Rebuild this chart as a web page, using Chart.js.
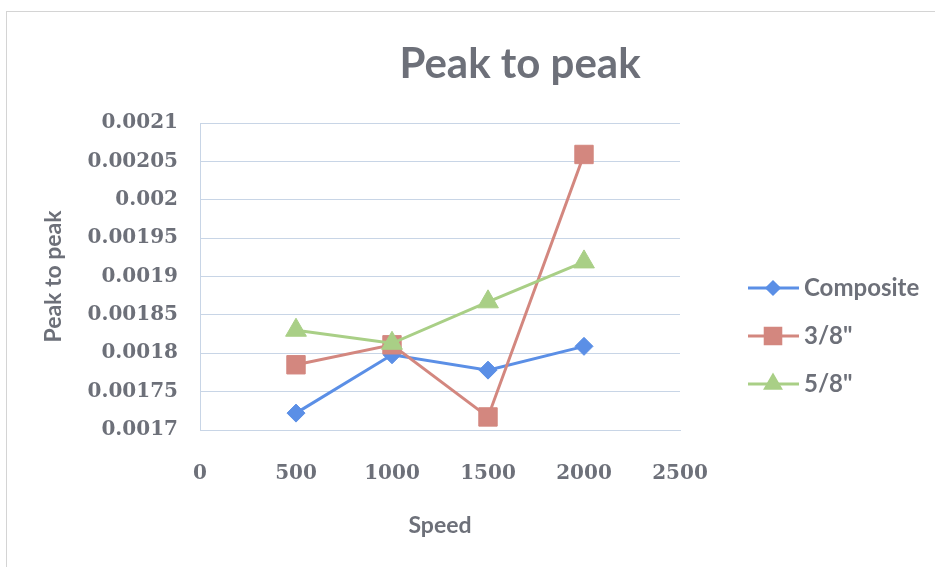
<!DOCTYPE html>
<html>
<head>
<meta charset="utf-8">
<title>Peak to peak</title>
<script src="https://cdn.jsdelivr.net/npm/chart.js@4/dist/chart.umd.min.js"></script>
<style>
  html, body { margin: 0; padding: 0; background: #fff; }
  #wrap { width: 935px; height: 567px; }
</style>
</head>
<body>
<div id="wrap"><canvas id="chart" width="935" height="567"></canvas></div>
<script>
// ── Data ───────────────────────────────────────────────────
const speeds      = [500, 1000, 1500, 2000];
const composite   = [0.001722, 0.001798, 0.001778, 0.001809];
const threeEighth = [0.001785, 0.001811, 0.001717, 0.002059];
const fiveEighth  = [0.001830, 0.001813, 0.001867, 0.001919];
const seriesNames = ['Composite', '3/8"', '5/8"'];
const xTicks = [0, 500, 1000, 1500, 2000, 2500];
const yTicks = [0.0017, 0.00175, 0.0018, 0.00185, 0.0019, 0.00195, 0.002, 0.00205, 0.0021];

const TEXT = '#6d7079';
const GRID = '#c8d5e6';
const colors = ['#5b8fe6', '#d3877f', '#a9cf86'];
const styles = [
  { pointStyle: 'rectRot',  radius: 9,  legendRadius: 6 },
  { pointStyle: 'rect',     radius: 13, legendRadius: 11 },
  { pointStyle: 'triangle', radius: 12, legendRadius: 8.5 },
];

const toPoints = vals => vals.map((v, i) => ({ x: speeds[i], y: v }));

// ── Frame, title and legend ────────────────────────────────
const decor = {
  id: 'decor',
  beforeDraw(chart) {
    const ctx = chart.ctx;
    ctx.save();
    ctx.fillStyle = '#fff';
    ctx.fillRect(0, 0, chart.width, chart.height);
    ctx.strokeStyle = '#d4d4d4';
    ctx.lineWidth = 1;
    ctx.strokeRect(6.5, 11.5, 940, 570);
    ctx.restore();
  },
  afterDraw(chart) {
    const ctx = chart.ctx;
    ctx.save();
    ctx.fillStyle = TEXT;
    ctx.font = 'bold 42px Lato';
    ctx.textAlign = 'center';
    ctx.textBaseline = 'alphabetic';
    ctx.fillText('Peak to peak', 520, 78);

    const rows = [288, 336, 384];
    chart.data.datasets.forEach((ds, i) => {
      const y = rows[i];
      ctx.strokeStyle = ds.borderColor;
      ctx.lineWidth = 3;
      ctx.beginPath();
      ctx.moveTo(748, y);
      ctx.lineTo(799, y);
      ctx.stroke();
      Chart.helpers.drawPoint(ctx, {
        pointStyle: styles[i].pointStyle,
        radius: styles[i].legendRadius,
        rotation: 0,
        borderWidth: 1,
      }, 773, y);
      ctx.fillStyle = ds.borderColor;
      ctx.fill();
      ctx.fillStyle = TEXT;
      ctx.font = 'bold 24px Lato';
      ctx.textAlign = 'left';
      ctx.textBaseline = 'middle';
      ctx.fillText(ds.label, 804, y);
    });
    ctx.restore();
  },
};

new Chart(document.getElementById('chart'), {
  type: 'line',
  data: {
    datasets: [composite, threeEighth, fiveEighth].map((vals, i) => ({
      label: seriesNames[i],
      data: toPoints(vals),
      borderColor: colors[i],
      backgroundColor: colors[i],
      borderWidth: 3,
      pointStyle: styles[i].pointStyle,
      pointRadius: styles[i].radius,
      pointHoverRadius: styles[i].radius,
      pointBorderWidth: 1,
      tension: 0,
      order: 2 - i,
    })),
  },
  options: {
    responsive: false,
    animation: false,
    devicePixelRatio: 1,
    layout: { padding: { top: 123, right: 255, bottom: 0, left: 0 } },
    plugins: {
      legend: { display: false },
      title: { display: false },
      tooltip: { enabled: false },
    },
    scales: {
      x: {
        type: 'linear',
        min: 0,
        max: 2500,
        afterBuildTicks: s => { s.ticks = xTicks.map(v => ({ value: v })); },
        afterFit: s => { s.height = 137; },
        grid: { display: false, drawTicks: false },
        border: { display: true, color: GRID, width: 1 },
        ticks: {
          color: TEXT,
          padding: 32,
          maxRotation: 0,
          callback: v => String(v),
          font: { family: 'DejaVu Serif', size: 20, weight: 'bold' },
        },
        title: {
          display: true,
          text: 'Speed',
          color: TEXT,
          font: { family: 'Lato', size: 23, weight: 'bold' },
          padding: { top: 0, bottom: 28 },
        },
      },
      y: {
        min: 0.0017,
        max: 0.0021,
        afterBuildTicks: s => { s.ticks = yTicks.map(v => ({ value: v })); },
        afterFit: s => { s.width = 200; },
        grid: { color: GRID, drawTicks: false },
        border: { display: true, color: GRID, width: 1 },
        ticks: {
          color: TEXT,
          padding: 22,
          callback: v => String(+v.toFixed(5)),
          font: { family: 'DejaVu Serif', size: 20, weight: 'bold' },
        },
        title: {
          display: true,
          text: 'Peak to peak',
          color: TEXT,
          font: { family: 'Lato', size: 23, weight: 'bold' },
          padding: { top: 40, bottom: 0 },
        },
      },
    },
  },
  plugins: [decor],
});
</script>
</body>
</html>
